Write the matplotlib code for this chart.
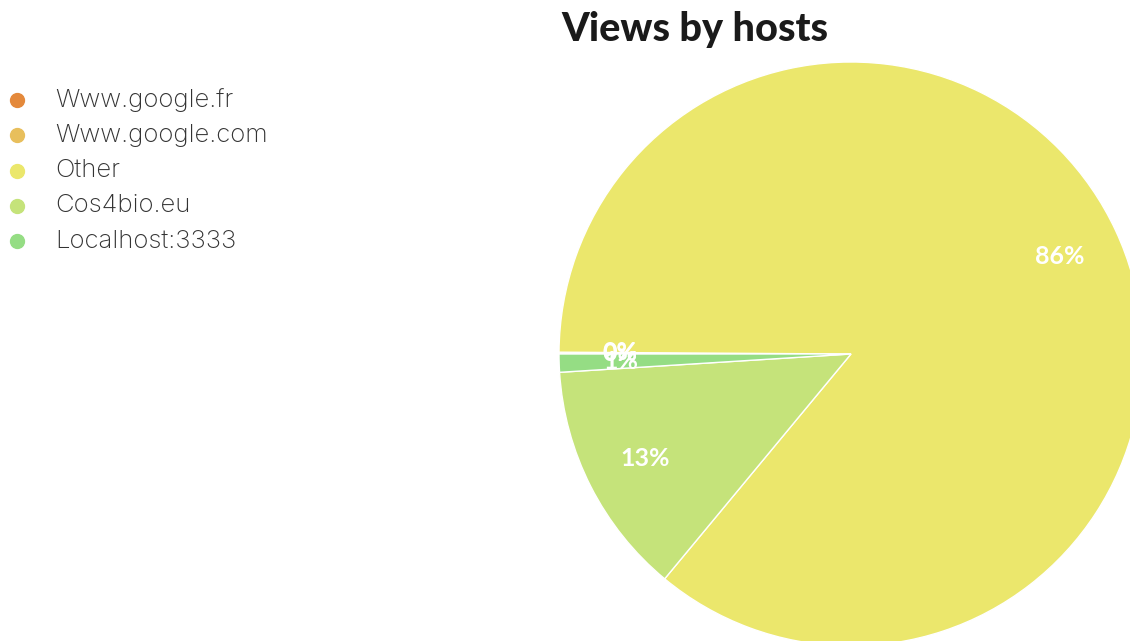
import matplotlib as mpl
import matplotlib.pyplot as plt

mpl.use('Agg')

hosts = ["Www.google.fr", "Www.google.com", "Other", "Cos4bio.eu", "Localhost:3333"]
views = [1, 1, 1720, 260, 20]
colors = ["#E4893B", "#E8BF5C", "#EBE76C", "#C5E37A", "#95DD84"]

W, H = 1130, 641
fig = plt.figure(figsize=(W / 100, H / 100), dpi=100)

# pie sits to the right and runs past the figure edge
ax = fig.add_axes([559 / W, -5 / H, 584 / W, 584 / H])
wedges, texts, pcts = ax.pie(
    views, colors=colors, startangle=180, counterclock=False,
    autopct="%1.0f%%", pctdistance=0.79, radius=1,
    wedgeprops=dict(edgecolor="white", linewidth=1),
    textprops=dict(color="white", fontsize=18, fontweight="bold", family="Lato"))
ax.set_xlim(-1, 1)
ax.set_ylim(-1, 1)
ax.set_aspect("equal")
ax.axis("off")

fig.text(695 / W, 1 - 29 / H, "Views by hosts", ha="center", va="center",
         fontsize=28.5, fontweight="black", family="Lato", color="#1a1a1a")

# legend drawn by hand: dot + label per host
for i, (name, c) in enumerate(zip(hosts, colors)):
    y = 1 - (100 + 35.3 * i) / H
    fig.add_artist(plt.Line2D([17 / W], [y], marker="o", markersize=10,
                              markerfacecolor=c, markeredgecolor=c,
                              linestyle="", transform=fig.transFigure))
    fig.text(55 / W, y, name, ha="left", va="center", fontsize=18.5,
             family="Inter", fontweight="light", color="#333333")

plt.savefig("out.png", dpi=100)
